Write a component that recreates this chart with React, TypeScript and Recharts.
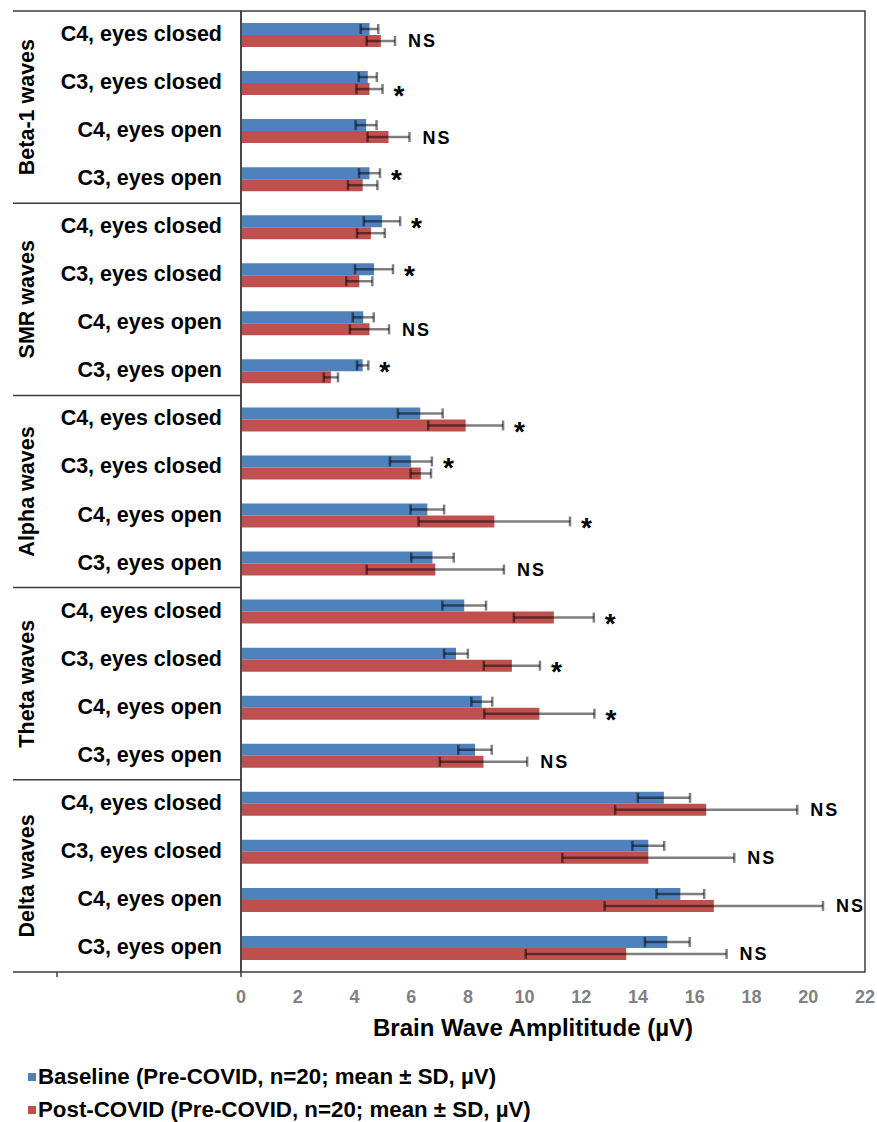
import React from 'react';
import { BarChart, Bar, XAxis, YAxis, ErrorBar, LabelList, ReferenceArea, Label } from 'recharts';

// EEG amplitude per band / electrode / condition, baseline vs post-COVID (mean ± SD, µV)
const waveGroups = ['Beta-1 waves', 'SMR waves', 'Alpha waves', 'Theta waves', 'Delta waves'];
const recordings = ['C4, eyes closed', 'C3, eyes closed', 'C4, eyes open', 'C3, eyes open'];

const baselineMean = [
  4.53, 4.47, 4.41, 4.53,
  4.97, 4.69, 4.31, 4.29,
  6.32, 5.99, 6.57, 6.75,
  7.87, 7.58, 8.49, 8.25,
  14.91, 14.36, 15.49, 15.03,
];
const baselineSD = [
  0.31, 0.32, 0.37, 0.37,
  0.64, 0.67, 0.37, 0.2,
  0.79, 0.74, 0.59, 0.75,
  0.77, 0.42, 0.37, 0.59,
  0.92, 0.56, 0.84, 0.79,
];
const postMean = [
  4.93, 4.53, 5.2, 4.29,
  4.58, 4.17, 4.53, 3.17,
  7.92, 6.34, 8.93, 6.85,
  11.03, 9.55, 10.52, 8.55,
  16.4, 14.36, 16.67, 13.58,
];
const postSD = [
  0.5, 0.46, 0.74, 0.52,
  0.49, 0.46, 0.69, 0.25,
  1.32, 0.36, 2.67, 2.42,
  1.41, 0.99, 1.94, 1.54,
  3.21, 3.03, 3.85, 3.54,
];
const significance = [
  'NS', '*', 'NS', '*',
  '*', '*', 'NS', '*',
  '*', '*', '*', 'NS',
  '*', '*', '*', 'NS',
  'NS', 'NS', 'NS', 'NS',
];
const amplitudeTicks = [0, 2, 4, 6, 8, 10, 12, 14, 16, 18, 20, 22];

const baselineName = 'Baseline (Pre-COVID, n=20; mean ± SD, µV)';
const postName = 'Post-COVID (Pre-COVID, n=20; mean ± SD, µV)';
const axisTitle = 'Brain Wave Amplititude (µV)';

const FONT = '"Liberation Sans", Arial, Helvetica, sans-serif';
const BLUE = '#4F81BD';
const RED = '#C0504D';
const FRAME = '#3c3c3c';
const WHISKER = 'rgba(0,0,0,0.5)';

const rows = waveGroups.flatMap((group, gi) =>
  recordings.map((site, si) => {
    const i = gi * recordings.length + si;
    return {
      key: `${group}|${site}`,
      group,
      site,
      baseline: baselineMean[i],
      baselineSd: baselineSD[i],
      post: postMean[i],
      postSd: postSD[i],
      sig: significance[i],
    };
  })
);

// Category labels on the left, plus the outer band level (rotated) and its separators
function CategoryTick(props: any) {
  const { x, y, payload } = props;
  const index: number = props.index ?? payload.index;
  const half: number = payload.offset ?? 24;
  const row = rows[index];
  const axisX = x + 19;
  const lineLeft = x - 209;
  const parts: React.ReactNode[] = [];
  parts.push(
    <text
      key="site"
      x={x}
      y={y - 1}
      textAnchor="end"
      dominantBaseline="central"
      fontFamily={FONT}
      fontWeight="bold"
      fontSize={21.5}
      fill="#000"
    >
      {row.site}
    </text>
  );
  if (index % recordings.length === 0) {
    parts.push(
      <line key="sep" x1={lineLeft} x2={axisX} y1={y - half} y2={y - half} stroke={FRAME} strokeWidth={1.5} />
    );
  }
  if (index === rows.length - 1) {
    parts.push(
      <line key="sepEnd" x1={lineLeft} x2={axisX} y1={y + half} y2={y + half} stroke={FRAME} strokeWidth={1.5} />,
      <line key="tk1" x1={x - 165} x2={x - 165} y1={y + half} y2={y + half + 5} stroke={FRAME} strokeWidth={1.5} />,
      <line key="tk2" x1={axisX} x2={axisX} y1={y + half} y2={y + half + 5} stroke={FRAME} strokeWidth={1.5} />
    );
  }
  if (index % recordings.length === 1) {
    const gx = x - 195;
    const gy = y + half;
    parts.push(
      <text
        key="group"
        x={gx}
        y={gy}
        transform={`rotate(-90 ${gx} ${gy})`}
        textAnchor="middle"
        dominantBaseline="central"
        fontFamily={FONT}
        fontWeight="bold"
        fontSize={21.5}
        fill="#000"
      >
        {row.group}
      </text>
    );
  }
  return <g>{parts}</g>;
}

function AmplitudeTick(props: any) {
  const { x, y, payload } = props;
  return (
    <text
      x={x}
      y={y + 25}
      textAnchor="middle"
      dominantBaseline="central"
      fontFamily={FONT}
      fontWeight="bold"
      fontSize={18}
      fill="#808080"
    >
      {payload.value}
    </text>
  );
}

function AxisTitle(props: any) {
  const vb = props.viewBox;
  return (
    <text
      x={vb.x + vb.width / 2 - 20}
      y={vb.y + 55}
      textAnchor="middle"
      dominantBaseline="central"
      fontFamily={FONT}
      fontWeight="bold"
      fontSize={24}
      fill="#000"
    >
      {axisTitle}
    </text>
  );
}

// "NS" / "*" marker placed past the longer whisker of the pair
function SignificanceLabel(props: any) {
  const { x, y, width, height, index } = props;
  const row = rows[index];
  if (!row) return null;
  const perUnit = width / row.post;
  const baseEnd = x + (row.baseline + row.baselineSd) * perUnit;
  const postEnd = x + (row.post + row.postSd) * perUnit;
  const end = Math.max(baseEnd, postEnd);
  const cy = postEnd >= baseEnd ? y + height / 2 : y - height / 2;
  if (row.sig === '*') {
    const fs = 28;
    return (
      <text x={end + 11} y={cy + 0.56 * fs} fontFamily={FONT} fontWeight="bold" fontSize={fs} fill="#000">
        *
      </text>
    );
  }
  const fs = 18;
  return (
    <text
      x={end + 13}
      y={cy + 0.36 * fs}
      fontFamily={FONT}
      fontWeight="bold"
      fontSize={fs}
      letterSpacing={2}
      fill="#000"
    >
      {row.sig}
    </text>
  );
}

const legendItems = [
  { name: baselineName, color: BLUE },
  { name: postName, color: RED },
];

export default function App() {
  return (
    <div style={{ position: 'absolute', left: 0, top: 0, width: 877, height: 1122, background: '#fff' }}>
      <BarChart
        width={877}
        height={1122}
        data={rows}
        layout="vertical"
        margin={{ top: 11, right: 12, bottom: 80, left: 0 }}
        barCategoryGap="25%"
        barGap={0}
      >
        <XAxis
          type="number"
          domain={[0, 22]}
          ticks={amplitudeTicks}
          interval={0}
          axisLine={false}
          tickLine={false}
          tickSize={0}
          tickMargin={0}
          height={70}
          tick={AmplitudeTick}
        >
          <Label content={AxisTitle} />
        </XAxis>
        <YAxis
          type="category"
          dataKey="key"
          width={241}
          interval={0}
          tickSize={0}
          tickMargin={19}
          tickLine={false}
          axisLine={{ stroke: FRAME, strokeWidth: 1.5 }}
          tick={CategoryTick}
        />
        <ReferenceArea x1={0} x2={22} fill="none" stroke={FRAME} strokeWidth={1.5} ifOverflow="visible" />
        <Bar dataKey="baseline" name={baselineName} fill={BLUE} isAnimationActive={false}>
          <ErrorBar dataKey="baselineSd" direction="x" width={5} stroke={WHISKER} strokeWidth={2.5} />
        </Bar>
        <Bar dataKey="post" name={postName} fill={RED} isAnimationActive={false}>
          <ErrorBar dataKey="postSd" direction="x" width={5} stroke={WHISKER} strokeWidth={2.5} />
          <LabelList dataKey="sig" content={SignificanceLabel} />
        </Bar>
      </BarChart>
      <div style={{ position: 'absolute', left: 28, top: 1060, fontFamily: FONT }}>
        {legendItems.map((item) => (
          <div
            key={item.name}
            style={{ display: 'flex', alignItems: 'center', height: 33, fontWeight: 'bold', fontSize: 22.3, color: '#000' }}
          >
            <span style={{ display: 'inline-block', width: 8, height: 8, background: item.color, marginRight: 2 }} />
            <span>{item.name}</span>
          </div>
        ))}
      </div>
    </div>
  );
}
